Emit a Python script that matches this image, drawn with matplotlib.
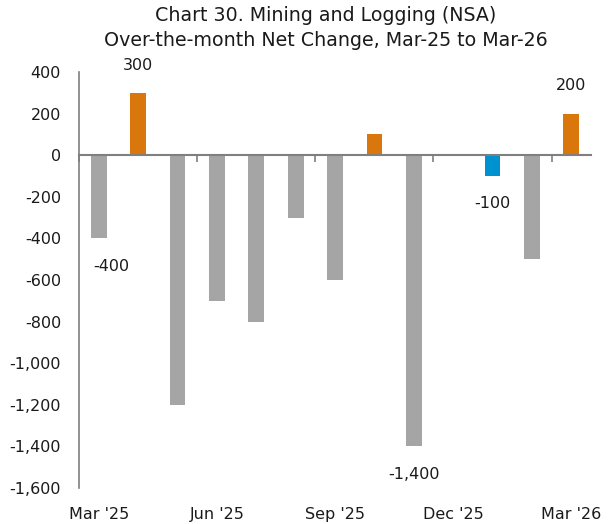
import matplotlib
matplotlib.use("Agg")
import matplotlib.pyplot as plt
import numpy as np

months = ["Mar '25", "Apr '25", "May '25", "Jun '25", "Jul '25", "Aug '25", "Sep '25",
          "Oct '25", "Nov '25", "Dec '25", "Jan '26", "Feb '26", "Mar '26"]
values = [-400, 300, -1200, -700, -800, -300, -600, 100, -1400, 0, -100, -500, 200]
labeled = ["Mar '25", "Apr '25", "Nov '25", "Jan '26", "Mar '26"]
highlight_blue = ["Jan '26"]
tick_labels = ["Mar '25", "Jun '25", "Sep '25", "Dec '25", "Mar '26"]
yticks = [400, 200, 0, -200, -400, -600, -800, -1000, -1200, -1400, -1600]

GRAY = "#A5A5A5"
ORANGE = "#D9770D"
BLUE = "#0091D0"

def color_for(m, v):
    if m in highlight_blue:
        return BLUE
    return ORANGE if v > 0 else GRAY

plt.rcParams['font.family'] = ['DejaVu Sans']
fig = plt.figure(figsize=(6.13, 5.24), dpi=100)
ax = fig.add_axes([0.129, 0.0687, 0.835, 0.7939])

x = np.arange(len(months))
colors = [color_for(m, v) for m, v in zip(months, values)]
ax.bar(x, values, width=0.4, color=colors, zorder=2)

ax.set_xlim(-0.5, len(months) - 0.5)
ax.set_ylim(-1600, 400)
ax.set_yticks(yticks)
ax.set_yticklabels([f"{v:,}" for v in yticks], fontsize=11.5, color="#1a1a1a")
ax.tick_params(axis='y', length=0, pad=13)

for s in ["top", "right"]:
    ax.spines[s].set_visible(False)
ax.spines["left"].set_color("#7f7f7f")
ax.spines["left"].set_linewidth(1.2)
ax.spines["bottom"].set_position(("data", 0))
ax.spines["bottom"].set_color("#7f7f7f")
ax.spines["bottom"].set_linewidth(1.5)
ax.spines["bottom"].set_zorder(3)

# boundary ticks every 3 months
tick_idx = [months.index(t) for t in tick_labels]
ax.set_xticks([i - 0.5 for i in tick_idx])
ax.set_xticklabels([])
ax.tick_params(axis='x', direction='out', length=5, width=1.2, color="#7f7f7f")

sec = ax.secondary_xaxis('bottom')
sec.set_xticks(tick_idx)
sec.set_xticklabels(tick_labels, fontsize=11.5, color="#1a1a1a")
sec.tick_params(length=0, pad=14)
sec.spines["bottom"].set_visible(False)

for m in labeled:
    i = months.index(m)
    v = values[i]
    dx = 9 if i == 0 else 0
    dy = 20 if v > 0 else -20
    ax.annotate(f"{v:,}", (i, v), xytext=(dx, dy), textcoords="offset points",
                ha="center", va="center", fontsize=11.5, color="#1a1a1a")

fig.suptitle("Chart 30. Mining and Logging (NSA)\nOver-the-month Net Change, Mar-25 to Mar-26",
             x=0.532, y=0.988, fontsize=13.7, color="#1a1a1a", linespacing=1.4)

fig.savefig("out.png", dpi=100)
